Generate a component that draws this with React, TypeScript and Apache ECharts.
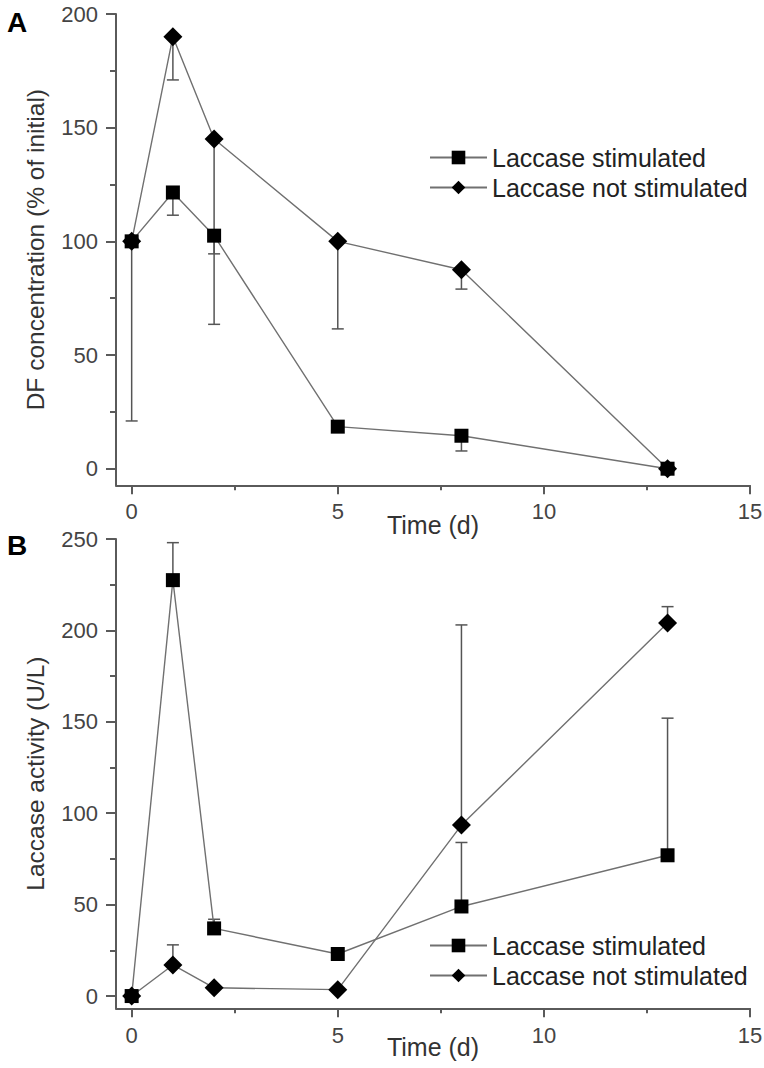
import React, { useEffect, useRef } from "react";
import * as echarts from "echarts";

// ---- data ----
const xDays = [0, 1, 2, 5, 8, 13];

// Panel A: DF concentration (% of initial)
const dfStimulated = [100, 121.5, 102.5, 18.5, 14.5, 0];
const dfStimulatedErr = [0, 10, 8, 0, 6.7, 0]; // drawn downward
const dfNotStimulated = [100, 190, 145, 100, 87.5, 0];
const dfNotStimulatedErr = [79, 19, 81.5, 38.5, 8.5, 0]; // drawn downward

// Panel B: Laccase activity (U/L)
const lacStimulated = [0, 227.5, 37, 23, 49, 77];
const lacStimulatedErr = [0, 20.5, 5, 0, 35, 75]; // drawn upward
const lacNotStimulated = [0, 17, 4.5, 3.5, 93.5, 204];
const lacNotStimulatedErr = [0, 11, 0, 0, 109.5, 9]; // drawn upward

const xTicks = [0, 5, 10, 15];
const xMinorTicks = [2.5, 7.5, 12.5];
const dfTicks = [0, 50, 100, 150, 200];
const dfMinorTicks = [25, 75, 125, 175];
const lacTicks = [0, 50, 100, 150, 200, 250];
const lacMinorTicks = [25, 75, 125, 175, 225];

const seriesNames = ["Laccase stimulated", "Laccase not stimulated"];

const FONT = "'Liberation Sans', Arial, Helvetica, sans-serif";
const AXIS_COLOR = "#5a5a5a";
const LINE_COLOR = "#707070";
const ERR_COLOR = "#555555";

function errData(values: number[], errs: number[], sign: number) {
  return xDays
    .map((x, i) => [x, values[i], values[i] + sign * errs[i], errs[i]])
    .filter((d) => d[3] > 0)
    .map((d) => [d[0], d[1], d[2]]);
}

function renderErr(params: any, api: any) {
  const x = api.value(0);
  const p0 = api.coord([x, api.value(1)]);
  const p1 = api.coord([x, api.value(2)]);
  const style = { stroke: ERR_COLOR, lineWidth: 1.5 };
  return {
    type: "group",
    children: [
      { type: "line", shape: { x1: p0[0], y1: p0[1], x2: p1[0], y2: p1[1] }, style },
      { type: "line", shape: { x1: p1[0] - 6, y1: p1[1], x2: p1[0] + 6, y2: p1[1] }, style },
    ],
  };
}

function mainX(gridIndex: number, labelMargin: number, nameGap: number) {
  return {
    type: "value",
    gridIndex,
    min: -0.38,
    max: 15,
    name: "Time (d)",
    nameLocation: "middle",
    nameGap,
    nameMoveOverlap: false,
    nameTextStyle: { fontSize: 25, color: "#333", fontFamily: FONT },
    axisLine: { show: true, onZero: false, lineStyle: { color: AXIS_COLOR, width: 2 } },
    axisTick: { show: true, inside: false, length: 9, customValues: xTicks, lineStyle: { color: AXIS_COLOR, width: 2 } },
    axisLabel: { show: true, customValues: xTicks, margin: labelMargin, fontSize: 22, color: "#444", fontFamily: FONT },
    splitLine: { show: false },
  };
}

function minorX(gridIndex: number) {
  return {
    type: "value",
    gridIndex,
    min: -0.38,
    max: 15,
    position: "bottom",
    axisLine: { show: false, onZero: false },
    axisTick: { show: true, inside: false, length: 5, customValues: xMinorTicks, lineStyle: { color: AXIS_COLOR, width: 2 } },
    axisLabel: { show: false },
    splitLine: { show: false },
  };
}

function mainY(gridIndex: number, min: number, max: number, ticks: number[], name: string) {
  return {
    type: "value",
    gridIndex,
    min,
    max,
    name,
    nameLocation: "middle",
    nameGap: 68,
    nameMoveOverlap: false,
    nameRotate: 90,
    nameTextStyle: { fontSize: 24.5, color: "#333", fontFamily: FONT },
    axisLine: { show: true, onZero: false, lineStyle: { color: AXIS_COLOR, width: 2 } },
    axisTick: { show: true, inside: false, length: 10, customValues: ticks, lineStyle: { color: AXIS_COLOR, width: 2 } },
    axisLabel: { show: true, customValues: ticks, margin: 18, fontSize: 22, color: "#444", fontFamily: FONT },
    splitLine: { show: false },
  };
}

function minorY(gridIndex: number, min: number, max: number, ticks: number[]) {
  return {
    type: "value",
    gridIndex,
    min,
    max,
    position: "left",
    axisLine: { show: false, onZero: false },
    axisTick: { show: true, inside: false, length: 6, customValues: ticks, lineStyle: { color: AXIS_COLOR, width: 2 } },
    axisLabel: { show: false },
    splitLine: { show: false },
  };
}

function lineSeries(name: string, values: number[], axisIndex: number, symbol: string, size: number) {
  return {
    type: "line",
    name,
    xAxisIndex: axisIndex,
    yAxisIndex: axisIndex,
    data: xDays.map((x, i) => [x, values[i]]),
    symbol,
    symbolSize: size,
    showAllSymbol: true,
    z: 3,
    lineStyle: { color: LINE_COLOR, width: 1.4 },
    itemStyle: { color: "#000", borderWidth: 0 },
    emphasis: { disabled: true },
  };
}

function errSeries(values: number[], errs: number[], sign: number, axisIndex: number) {
  return {
    type: "custom",
    xAxisIndex: axisIndex,
    yAxisIndex: axisIndex,
    data: errData(values, errs, sign),
    encode: { x: 0, y: [1, 2] },
    renderItem: renderErr,
    z: 1,
    silent: true,
  };
}

function legendAt(top: number) {
  return {
    orient: "vertical",
    left: 429,
    top,
    padding: 0,
    itemWidth: 57,
    itemHeight: 17,
    itemGap: 5,
    data: seriesNames,
    textStyle: { fontSize: 25, color: "#222", fontFamily: FONT, lineHeight: 25 },
    selectedMode: false,
  };
}

export default function App() {
  const ref = useRef<HTMLDivElement>(null);

  useEffect(() => {
    if (!ref.current) return;
    const chart = echarts.init(ref.current, null, { renderer: "svg" });
    const option: any = {
      animation: false,
      backgroundColor: "#fff",
      textStyle: { fontFamily: FONT },
      title: [
        { text: "A", left: 2, top: 3, textStyle: { fontSize: 28, fontWeight: "bold", color: "#000", fontFamily: FONT } },
        { text: "B", left: 2, top: 526, textStyle: { fontSize: 28, fontWeight: "bold", color: "#000", fontFamily: FONT } },
      ],
      legend: [legendAt(145), legendAt(933)],
      grid: [
        { left: 116, top: 14, width: 634, height: 471.3, containLabel: false, outerBoundsMode: "none" },
        { left: 116, top: 539, width: 634, height: 469.3, containLabel: false, outerBoundsMode: "none" },
      ],
      xAxis: [mainX(0, 15, 27), minorX(0), mainX(1, 16, 26), minorX(1)],
      yAxis: [
        mainY(0, -7.3, 200, dfTicks, "DF concentration (% of initial)"),
        minorY(0, -7.3, 200, dfMinorTicks),
        mainY(1, -6.7, 250, lacTicks, "Laccase activity (U/L)"),
        minorY(1, -6.7, 250, lacMinorTicks),
      ],
      series: [
        errSeries(dfStimulated, dfStimulatedErr, -1, 0),
        errSeries(dfNotStimulated, dfNotStimulatedErr, -1, 0),
        lineSeries(seriesNames[0], dfStimulated, 0, "rect", 14),
        lineSeries(seriesNames[1], dfNotStimulated, 0, "diamond", 19),
        errSeries(lacStimulated, lacStimulatedErr, 1, 2),
        errSeries(lacNotStimulated, lacNotStimulatedErr, 1, 2),
        lineSeries(seriesNames[0], lacStimulated, 2, "rect", 14),
        lineSeries(seriesNames[1], lacNotStimulated, 2, "diamond", 19),
      ],
    };
    chart.setOption(option);
    return () => chart.dispose();
  }, []);

  return (
    <div
      ref={ref}
      style={{ position: "fixed", left: 0, top: 0, width: 764, height: 1068, background: "#fff" }}
    />
  );
}
